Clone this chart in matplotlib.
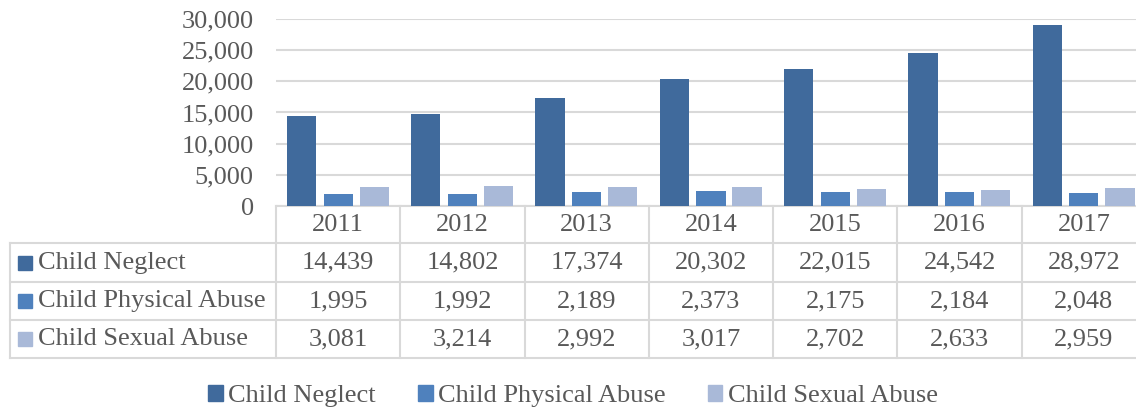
import numpy as np
import matplotlib
matplotlib.use("Agg")
import matplotlib.pyplot as plt
from matplotlib.patches import Patch, Rectangle
from matplotlib.transforms import blended_transform_factory

plt.rcParams["font.family"] = ["Liberation Serif", "DejaVu Serif"]
plt.rcParams["font.size"] = 19

years = ["2011", "2012", "2013", "2014", "2015", "2016", "2017"]
series_names = ["Child Neglect", "Child Physical Abuse", "Child Sexual Abuse"]
neglect = [14439, 14802, 17374, 20302, 22015, 24542, 28972]
physical = [1995, 1992, 2189, 2373, 2175, 2184, 2048]
sexual = [3081, 3214, 2992, 3017, 2702, 2633, 2959]
colors = ["#406A9C", "#4F81BD", "#A9B9D8"]

TXT = "#595959"
GRID = "#D9D9D9"
W, H = 1136, 411

fig = plt.figure(figsize=(W / 100, H / 100), dpi=100)
ax = fig.add_axes([276 / W, 1 - 206 / H, 870 / W, 187 / H])

x = np.arange(len(years))
values = [neglect, physical, sexual]
offsets = [-0.295, 0.0, 0.29]
for vals, off, col in zip(values, offsets, colors):
    ax.bar(x + off, vals, width=0.235, color=col, zorder=3)

ax.set_xlim(-0.5, len(years) - 0.5)
ax.set_ylim(0, 30000)
ax.set_yticks(np.arange(0, 30001, 5000))
ax.set_yticklabels([f"{v:,}" for v in range(0, 30001, 5000)], color=TXT)
ax.tick_params(axis="y", length=0, pad=16)
ax.set_xticks([])
ax.grid(axis="y", color=GRID, lw=1.5, zorder=0)
for s in ["top", "right", "left"]:
    ax.spines[s].set_visible(False)
ax.spines["bottom"].set_color(GRID)
ax.spines["bottom"].set_linewidth(1.5)

# data table below the axis
tr = blended_transform_factory(ax.transData, fig.transFigure)
fy = lambda py: 1 - py / H
row_lines = [243, 282, 320, 358]
row_centers = [262.5, 301, 339]

for i in range(len(years) + 1):
    ax.plot([i - 0.5, i - 0.5], [fy(206), fy(358)], color=GRID, lw=1.5,
            transform=tr, clip_on=False)
for py in row_lines:
    fig.add_artist(plt.Line2D([10 / W, 1.02], [fy(py), fy(py)], color=GRID, lw=1.5))
fig.add_artist(plt.Line2D([10 / W, 10 / W], [fy(243), fy(358)], color=GRID, lw=1.5))

for i, yr in enumerate(years):
    ax.text(i, fy(224.5), yr, transform=tr, ha="center", va="center", color=TXT)
    for vals, py in zip(values, row_centers):
        ax.text(i, fy(py), f"{vals[i]:,}", transform=tr, ha="center", va="center", color=TXT)

for name, col, py in zip(series_names, colors, row_centers):
    fig.add_artist(Rectangle((18 / W, fy(py + 7)), 14 / W, 14 / H, color=col,
                             transform=fig.transFigure))
    fig.text(38 / W, fy(py), name, ha="left", va="center", color=TXT)

handles = [Patch(color=c, label=n) for c, n in zip(colors, series_names)]
fig.legend(handles=handles, loc="center", bbox_to_anchor=(573 / W, fy(396)), ncol=3,
           frameon=False, handlelength=0.55, handleheight=0.55, handletextpad=0.2,
           columnspacing=1.6, labelcolor=TXT, borderaxespad=0, borderpad=0)

fig.savefig("out.png", dpi=100)
